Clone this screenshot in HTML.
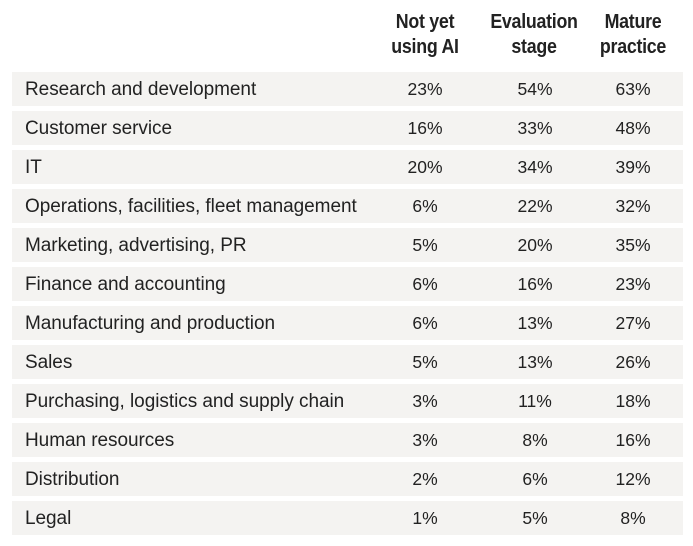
<!DOCTYPE html>
<html><head><style>
body{margin:0;width:693px;height:546px;background:#fff;font-family:"Liberation Sans",sans-serif;color:#222;position:relative;overflow:hidden}
.h{position:absolute;top:10px;width:120px;text-align:center;font-weight:bold;font-size:20px;line-height:25px;letter-spacing:-0.3px;transform:scaleX(0.89)}
.r{position:absolute;left:12px;width:671px;height:34px;background:#f4f3f1;font-size:17.5px;line-height:34px}
.r span{position:absolute;top:0;line-height:34px}
.l{left:13px;font-size:19px;letter-spacing:-0.05px;top:1px!important}
.a,.b,.c{width:80px;text-align:center}
.a{left:373px}.b{left:483px}.c{left:581px}
</style></head><body>
<div class="h" style="left:365px">Not yet<br>using AI</div>
<div class="h" style="left:474px">Evaluation<br>stage</div>
<div class="h" style="left:573px">Mature<br>practice</div>
<div class="r" style="top:72px"><span class="l">Research and development</span><span class="a">23%</span><span class="b">54%</span><span class="c">63%</span></div>
<div class="r" style="top:111px"><span class="l">Customer service</span><span class="a">16%</span><span class="b">33%</span><span class="c">48%</span></div>
<div class="r" style="top:150px"><span class="l">IT</span><span class="a">20%</span><span class="b">34%</span><span class="c">39%</span></div>
<div class="r" style="top:189px"><span class="l">Operations, facilities, fleet management</span><span class="a">6%</span><span class="b">22%</span><span class="c">32%</span></div>
<div class="r" style="top:228px"><span class="l">Marketing, advertising, PR</span><span class="a">5%</span><span class="b">20%</span><span class="c">35%</span></div>
<div class="r" style="top:267px"><span class="l">Finance and accounting</span><span class="a">6%</span><span class="b">16%</span><span class="c">23%</span></div>
<div class="r" style="top:306px"><span class="l">Manufacturing and production</span><span class="a">6%</span><span class="b">13%</span><span class="c">27%</span></div>
<div class="r" style="top:345px"><span class="l">Sales</span><span class="a">5%</span><span class="b">13%</span><span class="c">26%</span></div>
<div class="r" style="top:384px"><span class="l">Purchasing, logistics and supply chain</span><span class="a">3%</span><span class="b">11%</span><span class="c">18%</span></div>
<div class="r" style="top:423px"><span class="l">Human resources</span><span class="a">3%</span><span class="b">8%</span><span class="c">16%</span></div>
<div class="r" style="top:462px"><span class="l">Distribution</span><span class="a">2%</span><span class="b">6%</span><span class="c">12%</span></div>
<div class="r" style="top:501px"><span class="l">Legal</span><span class="a">1%</span><span class="b">5%</span><span class="c">8%</span></div>
</body></html>
